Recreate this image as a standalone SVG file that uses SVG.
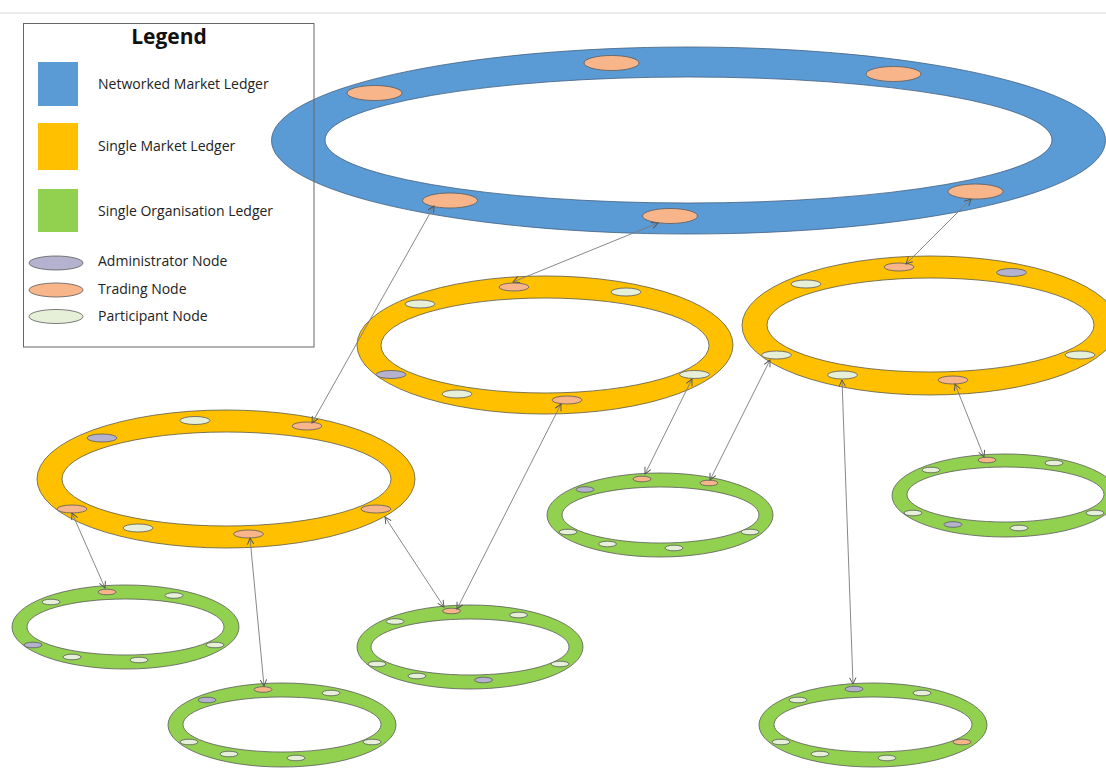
<svg xmlns="http://www.w3.org/2000/svg" width="1106" height="774" viewBox="0 0 1106 774">
<style>
.blue{fill:#5B9BD5;stroke:#41607f;stroke-width:0.8;fill-rule:evenodd}
.yel{fill:#FFC000;stroke:#5a5a4a;stroke-width:0.8;fill-rule:evenodd}
.grn{fill:#92D050;stroke:#5a5a5a;stroke-width:0.8;fill-rule:evenodd}
.tr{fill:#F8B58A;stroke:#5a5a5a;stroke-width:0.8}
.pa{fill:#E6EFD8;stroke:#5a5a5a;stroke-width:0.8}
.ad{fill:#B4B2CE;stroke:#5a5a5a;stroke-width:0.8}
.con line{stroke:#7a7a7a;stroke-width:0.9;marker-start:url(#ar);marker-end:url(#ar)}
.lt{font-family:"Open Sans","Liberation Sans",Arial,sans-serif;font-size:14px;fill:#222}
</style>
<defs>
<marker id="ar" viewBox="0 0 10 10" refX="9" refY="5" markerWidth="8" markerHeight="8" markerUnits="userSpaceOnUse" orient="auto-start-reverse">
<path d="M1,1 L9,5 L1,9" fill="none" stroke="#555" stroke-width="1.2"/>
</marker>
</defs>
<rect width="1106" height="774" fill="#fff"/>
<line x1="0" y1="13" x2="1106" y2="13" stroke="#d9d9d9" stroke-width="1"/>

<g id="networked-ledger">
<path class="blue" d="M271.5,140.5 a417,93.5 0 1,0 834,0 a417,93.5 0 1,0 -834,0 Z M325,140 a363.5,63 0 1,0 727,0 a363.5,63 0 1,0 -727,0 Z"/>
<ellipse class="tr" cx="374.5" cy="93" rx="27.5" ry="7.5"/>
<ellipse class="tr" cx="611.5" cy="63" rx="27.5" ry="7.5"/>
<ellipse class="tr" cx="893.5" cy="74" rx="27.5" ry="7.5"/>
<ellipse class="tr" cx="450" cy="200.5" rx="27.5" ry="7.5"/>
<ellipse class="tr" cx="670" cy="216" rx="27.5" ry="7.5"/>
<ellipse class="tr" cx="975.5" cy="191.5" rx="27.5" ry="7.5"/>
</g>

<g id="market-ledger-1">
<path class="yel" d="M357,345 a188,69 0 1,0 376,0 a188,69 0 1,0 -376,0 Z M381,345.5 a164,47.5 0 1,0 328,0 a164,47.5 0 1,0 -328,0 Z"/>
<ellipse class="tr" cx="514" cy="287" rx="15" ry="4"/>
<ellipse class="pa" cx="626" cy="292" rx="15" ry="4"/>
<ellipse class="pa" cx="420" cy="304" rx="15" ry="4"/>
<ellipse class="ad" cx="391" cy="374.5" rx="15" ry="4"/>
<ellipse class="pa" cx="457" cy="394" rx="15" ry="4"/>
<ellipse class="tr" cx="567" cy="400" rx="15" ry="4"/>
<ellipse class="pa" cx="694.5" cy="374.5" rx="15" ry="4"/>
</g>

<g id="market-ledger-2">
<path class="yel" d="M742,325.5 a188,69.5 0 1,0 376,0 a188,69.5 0 1,0 -376,0 Z M767,325 a163.5,47 0 1,0 327,0 a163.5,47 0 1,0 -327,0 Z"/>
<ellipse class="tr" cx="899" cy="267" rx="15" ry="4"/>
<ellipse class="ad" cx="1011.5" cy="272.5" rx="15" ry="4"/>
<ellipse class="pa" cx="806" cy="284" rx="15" ry="4"/>
<ellipse class="pa" cx="776.5" cy="355" rx="15" ry="4"/>
<ellipse class="pa" cx="842.5" cy="375" rx="15" ry="4"/>
<ellipse class="tr" cx="953" cy="380" rx="15" ry="4"/>
<ellipse class="pa" cx="1080" cy="355" rx="15" ry="4"/>
</g>

<g id="market-ledger-3">
<path class="yel" d="M37,479 a189,69 0 1,0 378,0 a189,69 0 1,0 -378,0 Z M62,479 a164.5,47 0 1,0 329,0 a164.5,47 0 1,0 -329,0 Z"/>
<ellipse class="ad" cx="102" cy="438" rx="15" ry="4"/>
<ellipse class="pa" cx="195" cy="420.5" rx="15" ry="4"/>
<ellipse class="tr" cx="307" cy="426" rx="15" ry="4"/>
<ellipse class="tr" cx="72" cy="509" rx="15" ry="4"/>
<ellipse class="pa" cx="138" cy="528" rx="15" ry="4"/>
<ellipse class="tr" cx="248.5" cy="534" rx="15" ry="4"/>
<ellipse class="tr" cx="376" cy="509" rx="15" ry="4"/>
</g>

<g id="org-ledger-1">
<path class="grn" d="M12,627 a113.5,42 0 1,0 227,0 a113.5,42 0 1,0 -227,0 Z M27,627 a98.5,28 0 1,0 197,0 a98.5,28 0 1,0 -197,0 Z"/>
<ellipse class="tr" cx="107" cy="592" rx="9" ry="2.8"/>
<ellipse class="pa" cx="174" cy="595.5" rx="9" ry="2.8"/>
<ellipse class="pa" cx="51" cy="602" rx="9" ry="2.8"/>
<ellipse class="ad" cx="33" cy="645" rx="9" ry="2.8"/>
<ellipse class="pa" cx="72" cy="657" rx="9" ry="2.8"/>
<ellipse class="pa" cx="139" cy="660" rx="9" ry="2.8"/>
<ellipse class="pa" cx="215" cy="645" rx="9" ry="2.8"/>
</g>

<g id="org-ledger-2">
<path class="grn" d="M547,515 a113,42 0 1,0 226,0 a113,42 0 1,0 -226,0 Z M562,515 a98.5,28 0 1,0 197,0 a98.5,28 0 1,0 -197,0 Z"/>
<ellipse class="ad" cx="585" cy="489.5" rx="9" ry="2.8"/>
<ellipse class="tr" cx="642" cy="479" rx="9" ry="2.8"/>
<ellipse class="tr" cx="709" cy="483" rx="9" ry="2.8"/>
<ellipse class="pa" cx="568" cy="532" rx="9" ry="2.8"/>
<ellipse class="pa" cx="607.5" cy="544" rx="9" ry="2.8"/>
<ellipse class="pa" cx="674" cy="548" rx="9" ry="2.8"/>
<ellipse class="pa" cx="750" cy="532" rx="9" ry="2.8"/>
</g>

<g id="org-ledger-3">
<path class="grn" d="M892,495.5 a113,41.5 0 1,0 226,0 a113,41.5 0 1,0 -226,0 Z M907,494.5 a98.5,27.5 0 1,0 197,0 a98.5,27.5 0 1,0 -197,0 Z"/>
<ellipse class="tr" cx="987" cy="460" rx="9" ry="2.8"/>
<ellipse class="pa" cx="1054" cy="463" rx="9" ry="2.8"/>
<ellipse class="pa" cx="931" cy="470" rx="9" ry="2.8"/>
<ellipse class="pa" cx="913" cy="513" rx="9" ry="2.8"/>
<ellipse class="ad" cx="953" cy="524.5" rx="9" ry="2.8"/>
<ellipse class="pa" cx="1019" cy="528" rx="9" ry="2.8"/>
<ellipse class="pa" cx="1095" cy="513" rx="9" ry="2.8"/>
</g>

<g id="org-ledger-4">
<path class="grn" d="M168,725 a114,42 0 1,0 228,0 a114,42 0 1,0 -228,0 Z M183,724.5 a99,27.5 0 1,0 198,0 a99,27.5 0 1,0 -198,0 Z"/>
<ellipse class="ad" cx="207" cy="700" rx="9" ry="2.8"/>
<ellipse class="tr" cx="263" cy="689.5" rx="9" ry="2.8"/>
<ellipse class="pa" cx="331" cy="693" rx="9" ry="2.8"/>
<ellipse class="pa" cx="189" cy="742" rx="9" ry="2.8"/>
<ellipse class="pa" cx="229" cy="754" rx="9" ry="2.8"/>
<ellipse class="pa" cx="296" cy="758" rx="9" ry="2.8"/>
<ellipse class="pa" cx="372" cy="742" rx="9" ry="2.8"/>
</g>

<g id="org-ledger-5">
<path class="grn" d="M357,647 a113,42 0 1,0 226,0 a113,42 0 1,0 -226,0 Z M371,647 a99,28 0 1,0 198,0 a99,28 0 1,0 -198,0 Z"/>
<ellipse class="tr" cx="451.5" cy="611" rx="9" ry="2.8"/>
<ellipse class="pa" cx="395" cy="621.5" rx="9" ry="2.8"/>
<ellipse class="pa" cx="518.5" cy="615" rx="9" ry="2.8"/>
<ellipse class="pa" cx="377" cy="664" rx="9" ry="2.8"/>
<ellipse class="pa" cx="417" cy="676" rx="9" ry="2.8"/>
<ellipse class="ad" cx="483.5" cy="680" rx="9" ry="2.8"/>
<ellipse class="pa" cx="560" cy="664" rx="9" ry="2.8"/>
</g>

<g id="org-ledger-6">
<path class="grn" d="M759,725 a114,42 0 1,0 228,0 a114,42 0 1,0 -228,0 Z M774,724.5 a99,27.5 0 1,0 198,0 a99,27.5 0 1,0 -198,0 Z"/>
<ellipse class="ad" cx="854" cy="689" rx="9" ry="2.8"/>
<ellipse class="pa" cx="922" cy="693" rx="9" ry="2.8"/>
<ellipse class="pa" cx="798" cy="700" rx="9" ry="2.8"/>
<ellipse class="pa" cx="781" cy="742" rx="9" ry="2.8"/>
<ellipse class="pa" cx="820" cy="754" rx="9" ry="2.8"/>
<ellipse class="pa" cx="887" cy="758" rx="9" ry="2.8"/>
<ellipse class="tr" cx="962" cy="742" rx="9" ry="2.8"/>
</g>

<g id="connectors" class="con">
<line x1="434" y1="206" x2="312" y2="423"/>
<line x1="658" y1="223" x2="513" y2="282"/>
<line x1="971" y1="199" x2="906" y2="264"/>
<line x1="561" y1="404" x2="457" y2="609"/>
<line x1="692" y1="379" x2="645" y2="474"/>
<line x1="770" y1="360" x2="710" y2="480"/>
<line x1="842" y1="380" x2="853" y2="684"/>
<line x1="955" y1="384" x2="984" y2="457"/>
<line x1="72" y1="513" x2="105" y2="588"/>
<line x1="250" y1="538" x2="264" y2="686"/>
<line x1="385" y1="517" x2="444" y2="607"/>
</g>

<g id="legend">
<rect x="23.5" y="23.5" width="290.5" height="323.5" fill="none" stroke="#666" stroke-width="1"/>
<text x="169" y="44" text-anchor="middle" font-family="Open Sans,Liberation Sans,Arial,sans-serif" font-size="21" font-weight="bold" fill="#111">Legend</text>
<rect x="38" y="62" width="40" height="44" fill="#5B9BD5"/>
<rect x="38" y="123" width="40" height="47" fill="#FFC000"/>
<rect x="38" y="189" width="40" height="43" fill="#92D050"/>
<ellipse class="ad" cx="56" cy="263" rx="27" ry="7"/>
<ellipse class="tr" cx="56" cy="290" rx="27" ry="7"/>
<ellipse class="pa" cx="56" cy="316.5" rx="27" ry="7"/>
<text class="lt" x="98" y="89">Networked Market Ledger</text>
<text class="lt" x="98" y="151">Single Market Ledger</text>
<text class="lt" x="98" y="216">Single Organisation Ledger</text>
<text class="lt" x="98" y="266">Administrator Node</text>
<text class="lt" x="98" y="294">Trading Node</text>
<text class="lt" x="98" y="321">Participant Node</text>
</g>
</svg>
